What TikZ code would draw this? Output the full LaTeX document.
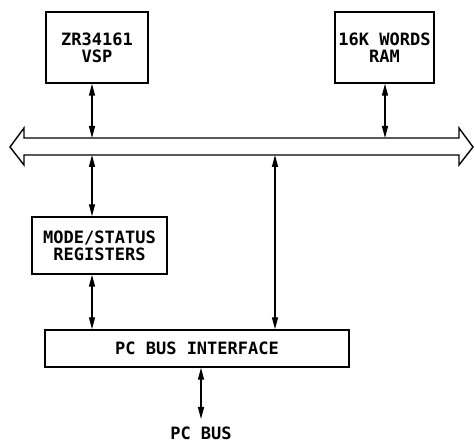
\documentclass[tikz,border=0pt]{standalone}
\usepackage{fontspec}
\setmonofont{DejaVu Sans Mono}
\usepackage{tikz}
\usetikzlibrary{arrows.meta}
\usetikzlibrary{positioning}
\usetikzlibrary{calc}
\tikzset{
  blk/.style={draw,line width=1.4pt,align=center,inner sep=0pt},
  lnk/.style={<->,line width=1.4pt},
}
\newcommand{\plt}{\fontsize{17}{17}\selectfont\ttfamily\bfseries}

\begin{document}
\begin{tikzpicture}[>={Triangle[length=12pt,width=6pt]},x=1pt,y=-1pt,font=\plt]
  \useasboundingbox (0,0) rectangle (475,443);
  % blocks
  \node[blk,minimum width=102pt,minimum height=71pt] (vsp) at (97,47.5) {ZR34161\\VSP};
  \node[blk,minimum width=99pt,minimum height=71pt] (ram) at (384.5,47.5) {16K WORDS\\RAM};
  \node[blk,minimum width=135pt,minimum height=57pt] (mode) at (99.5,245.5) {MODE/STATUS\\REGISTERS};
  \node[blk,minimum width=304pt,minimum height=37pt] (iface) at (197,348.5) {PC BUS INTERFACE};
  \node (pcbus) at (201,433) {PC BUS};
  % the bus
  \draw[line width=1.4pt,line join=miter]
    (10,147) -- (24,128) -- (24,138) -- (459,138) -- (459,128) -- (473,147)
    -- (459,165) -- (459,155) -- (24,155) -- (24,165) -- cycle;
  \coordinate (bvsp) at (92,138);
  \coordinate (bram) at (385,138);
  \coordinate (bmode) at (92,155);
  \coordinate (bpc) at (275,155);
  \coordinate (pcend) at (201,419);
  % connectors
  \draw[lnk] (vsp.south -| bvsp) -- (bvsp);
  \draw[lnk] (ram.south -| bram) -- (bram);
  \draw[lnk] (bmode) -- (mode.north -| bmode);
  \draw[lnk] (mode.south -| bmode) -- (iface.north -| bmode);
  \draw[lnk] (bpc) -- (iface.north -| bpc);
  \draw[lnk] (iface.south -| pcend) -- (pcend);
\end{tikzpicture}
\end{document}
